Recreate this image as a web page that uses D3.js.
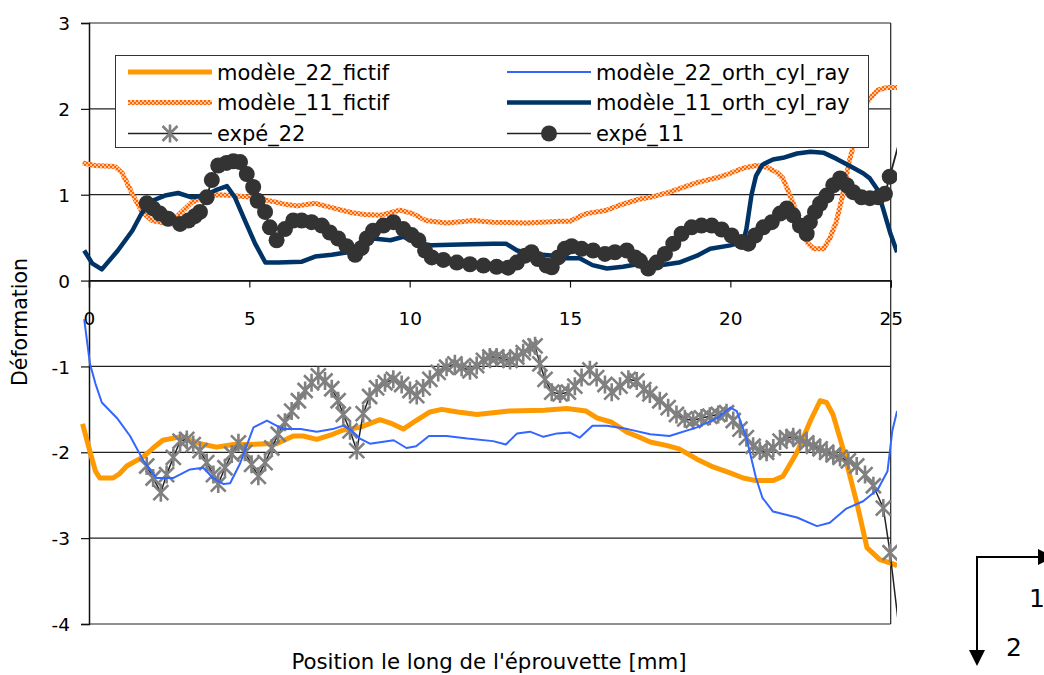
<!DOCTYPE html>
<html><head><meta charset="utf-8">
<script src="https://cdn.jsdelivr.net/npm/d3@7"></script>
<style>body{margin:0;background:#fff}svg{display:block}text{font-family:"DejaVu Sans",sans-serif;fill:#000}</style>
</head><body>
<svg id="chart" width="1044" height="675"></svg>
<script>
// ---------- data ----------
const xTicks = [0, 5, 10, 15, 20, 25];
const yTicks = [-4, -3, -2, -1, 0, 1, 2, 3];
const seriesNames = ["modèle_22_fictif", "modèle_22_orth_cyl_ray", "modèle_11_fictif", "modèle_11_orth_cyl_ray", "expé_22", "expé_11"];
const xTitle = "Position le long de l'éprouvette [mm]";
const yTitle = "Déformation";

const modele22Fictif = [[-0.2,-1.67],[0.0,-1.95],[0.2,-2.22],[0.34,-2.30],[0.75,-2.30],[0.95,-2.25],[1.18,-2.16],[1.7,-2.05],[2.0,-1.95],[2.3,-1.86],[2.84,-1.82],[3.2,-1.86],[3.46,-1.9],[3.98,-1.94],[4.5,-1.91],[5.0,-1.91],[5.54,-1.9],[5.85,-1.9],[6.37,-1.81],[6.68,-1.81],[7.1,-1.85],[7.6,-1.79],[7.93,-1.74],[8.45,-1.71],[9.07,-1.62],[9.4,-1.66],[9.8,-1.73],[10.2,-1.63],[10.63,-1.53],[11.0,-1.5],[11.5,-1.53],[12.1,-1.56],[12.6,-1.54],[13.1,-1.52],[14.2,-1.51],[14.9,-1.49],[15.5,-1.52],[15.84,-1.6],[16.3,-1.65],[16.8,-1.77],[17.2,-1.83],[17.5,-1.88],[18.0,-1.92],[18.4,-1.96],[18.96,-2.08],[19.46,-2.17],[19.99,-2.24],[20.4,-2.3],[20.8,-2.33],[21.33,-2.33],[21.64,-2.28],[22.08,-2.0],[22.5,-1.63],[22.8,-1.4],[23.0,-1.42],[23.2,-1.56],[23.5,-1.94],[23.95,-2.6],[24.26,-3.11],[24.66,-3.25],[25.07,-3.3],[25.2,-3.32]];

const modele22Orth = [[-0.15,-0.45],[0.03,-0.97],[0.2,-1.2],[0.4,-1.42],[0.87,-1.6],[1.28,-1.81],[1.7,-2.1],[2.1,-2.3],[2.62,-2.3],[3.15,-2.2],[3.56,-2.18],[3.87,-2.3],[4.2,-2.37],[4.4,-2.36],[4.7,-2.14],[5.13,-1.71],[5.55,-1.63],[6.05,-1.73],[6.6,-1.73],[7.1,-1.76],[7.6,-1.73],[7.93,-1.69],[8.2,-1.75],[8.45,-1.84],[8.76,-1.9],[9.5,-1.86],[9.9,-1.95],[10.2,-1.93],[10.6,-1.81],[11.15,-1.81],[11.8,-1.84],[12.6,-1.87],[13.0,-1.91],[13.35,-1.78],[13.75,-1.76],[14.17,-1.82],[14.6,-1.78],[15.0,-1.77],[15.3,-1.83],[15.7,-1.69],[16.15,-1.69],[16.8,-1.73],[17.5,-1.79],[18.1,-1.81],[18.96,-1.71],[19.6,-1.6],[20.0,-1.48],[20.2,-1.52],[20.5,-1.83],[20.8,-2.3],[21.0,-2.53],[21.33,-2.69],[22.08,-2.76],[22.7,-2.86],[23.1,-2.82],[23.6,-2.66],[24.14,-2.57],[24.6,-2.43],[24.9,-2.22],[25.05,-1.75],[25.2,-1.52]];

const modele11Fictif = [[-0.2,1.37],[0.19,1.34],[0.8,1.33],[1.04,1.25],[1.35,1.01],[1.65,0.8],[1.97,0.7],[2.47,0.66],[2.78,0.76],[3.2,0.91],[3.6,0.97],[4.0,1.0],[4.46,0.99],[5.08,0.97],[5.5,0.94],[6.1,0.89],[6.5,0.87],[7.05,0.9],[7.57,0.85],[8.2,0.79],[8.6,0.77],[9.07,0.76],[9.7,0.82],[10.1,0.78],[10.5,0.7],[11.15,0.67],[12.0,0.7],[12.6,0.68],[13.65,0.67],[14.7,0.69],[15.0,0.69],[15.5,0.78],[16.15,0.82],[16.56,0.88],[17.18,0.95],[17.5,0.97],[18.1,1.03],[18.96,1.14],[19.6,1.2],[20.0,1.25],[20.4,1.31],[20.8,1.34],[21.14,1.32],[21.45,1.26],[21.64,1.19],[21.95,0.91],[22.17,0.68],[22.4,0.44],[22.6,0.37],[22.9,0.37],[23.1,0.49],[23.3,0.68],[23.5,0.99],[23.7,1.38],[23.95,1.73],[24.14,2.0],[24.35,2.12],[24.6,2.22],[24.9,2.25],[25.2,2.25]];

const modele11Orth = [[-0.15,0.35],[0.1,0.2],[0.4,0.13],[0.9,0.35],[1.35,0.58],[1.65,0.79],[1.97,0.93],[2.37,0.99],[2.78,1.02],[3.2,0.97],[3.6,0.99],[4.0,1.06],[4.3,1.1],[4.55,0.97],[4.86,0.7],[5.18,0.43],[5.5,0.21],[5.9,0.21],[6.64,0.22],[7.05,0.28],[7.57,0.3],[8.07,0.33],[8.5,0.45],[8.86,0.49],[9.4,0.47],[9.8,0.51],[10.2,0.44],[10.7,0.41],[11.57,0.42],[12.6,0.43],[13.0,0.43],[13.35,0.35],[13.85,0.31],[14.5,0.29],[14.9,0.26],[15.3,0.26],[15.7,0.18],[16.15,0.14],[16.65,0.16],[17.1,0.19],[17.5,0.16],[18.4,0.21],[18.96,0.29],[19.37,0.37],[20.0,0.41],[20.4,0.45],[20.5,0.6],[20.66,1.0],[20.8,1.22],[21.0,1.35],[21.33,1.41],[21.64,1.43],[22.08,1.48],[22.5,1.5],[22.9,1.49],[23.3,1.42],[23.7,1.34],[24.14,1.25],[24.35,1.19],[24.57,1.07],[24.76,0.84],[24.98,0.56],[25.2,0.33]];

const expe22 = [[1.8,-2.16],[2.0,-2.30],[2.24,-2.47],[2.42,-2.26],[2.63,-2.06],[2.84,-1.87],[3.05,-1.85],[3.25,-1.91],[3.46,-1.98],[3.67,-2.12],[3.88,-2.26],[4.03,-2.37],[4.24,-2.18],[4.45,-2.02],[4.66,-1.89],[4.86,-2.0],[5.07,-2.14],[5.28,-2.28],[5.49,-2.12],[5.7,-1.95],[5.9,-1.79],[6.11,-1.65],[6.32,-1.52],[6.53,-1.40],[6.74,-1.28],[6.94,-1.19],[7.15,-1.11],[7.36,-1.17],[7.57,-1.26],[7.77,-1.40],[7.93,-1.56],[8.14,-1.75],[8.35,-1.98],[8.55,-1.55],[8.75,-1.35],[8.97,-1.25],[9.23,-1.19],[9.49,-1.15],[9.75,-1.21],[10.01,-1.28],[10.22,-1.34],[10.42,-1.25],[10.63,-1.15],[10.89,-1.07],[11.15,-1.01],[11.41,-0.97],[11.62,-1.01],[11.88,-1.05],[12.09,-0.99],[12.3,-0.93],[12.5,-0.89],[12.71,-0.89],[12.92,-0.91],[13.13,-0.93],[13.34,-0.89],[13.54,-0.84],[13.75,-0.78],[13.91,-0.76],[14.06,-0.97],[14.22,-1.15],[14.43,-1.30],[14.69,-1.32],[14.95,-1.30],[15.15,-1.23],[15.36,-1.13],[15.62,-1.04],[15.83,-1.13],[16.09,-1.21],[16.3,-1.30],[16.56,-1.23],[16.82,-1.15],[17.08,-1.17],[17.3,-1.27],[17.49,-1.32],[17.8,-1.40],[18.06,-1.48],[18.32,-1.56],[18.58,-1.61],[18.84,-1.63],[19.1,-1.60],[19.36,-1.58],[19.62,-1.56],[19.88,-1.54],[20.09,-1.63],[20.3,-1.73],[20.5,-1.83],[20.71,-1.93],[20.92,-1.98],[21.13,-2.0],[21.34,-1.95],[21.55,-1.87],[21.75,-1.83],[21.96,-1.82],[22.17,-1.85],[22.38,-1.89],[22.59,-1.93],[22.8,-1.96],[23.0,-2.0],[23.21,-2.03],[23.42,-2.06],[23.68,-2.10],[23.94,-2.16],[24.2,-2.26],[24.46,-2.39],[24.77,-2.65],[24.98,-3.17],[25.4,-4.5]];

const expe11 = [[1.8,0.9],[2.0,0.84],[2.21,0.78],[2.47,0.72],[2.84,0.66],[3.1,0.70],[3.3,0.75],[3.46,0.80],[3.67,0.97],[3.83,1.17],[4.03,1.34],[4.29,1.37],[4.5,1.39],[4.71,1.38],[4.92,1.24],[5.12,1.09],[5.26,0.93],[5.49,0.80],[5.64,0.62],[5.85,0.47],[6.11,0.6],[6.37,0.70],[6.63,0.70],[6.94,0.68],[7.26,0.64],[7.51,0.56],[7.77,0.49],[8.03,0.40],[8.3,0.3],[8.5,0.38],[8.66,0.49],[8.86,0.58],[9.18,0.64],[9.49,0.68],[9.8,0.60],[10.06,0.53],[10.27,0.47],[10.48,0.35],[10.69,0.27],[11.05,0.24],[11.47,0.21],[11.88,0.19],[12.3,0.175],[12.71,0.16],[13.07,0.15],[13.34,0.21],[13.6,0.29],[13.8,0.33],[14.0,0.25],[14.27,0.175],[14.43,0.155],[14.63,0.27],[14.84,0.37],[15.05,0.40],[15.36,0.37],[15.72,0.35],[16.09,0.31],[16.4,0.33],[16.77,0.35],[17.03,0.27],[17.18,0.23],[17.44,0.14],[17.7,0.21],[17.96,0.31],[18.22,0.43],[18.48,0.545],[18.79,0.62],[19.1,0.64],[19.42,0.64],[19.73,0.595],[20.04,0.525],[20.35,0.45],[20.56,0.43],[20.77,0.525],[21.03,0.62],[21.29,0.68],[21.55,0.78],[21.76,0.84],[21.96,0.76],[22.17,0.64],[22.38,0.545],[22.48,0.68],[22.64,0.80],[22.8,0.895],[23.0,0.99],[23.21,1.11],[23.42,1.19],[23.63,1.11],[23.83,1.03],[24.09,0.97],[24.35,0.96],[24.61,0.97],[24.82,1.01],[24.97,1.21],[25.4,1.8]];

// ---------- drawing ----------
const svg = d3.select("#chart");
const x = d3.scaleLinear().domain([0, 25]).range([89, 890.7]);
const y = d3.scaleLinear().domain([-4, 3]).range([624, 23]);
const line = d3.line().x(d => x(d[0])).y(d => y(d[1]));
const inPlot = d => d[0] <= 25.05;

const defs = svg.append("defs");
const pat = defs.append("pattern").attr("id", "chk").attr("width", 4).attr("height", 4).attr("patternUnits", "userSpaceOnUse");
pat.append("rect").attr("width", 4).attr("height", 4).attr("fill", "#FFC49C");
pat.append("rect").attr("x", 0).attr("y", 0).attr("width", 2).attr("height", 2).attr("fill", "#FF6600");
pat.append("rect").attr("x", 2).attr("y", 2).attr("width", 2).attr("height", 2).attr("fill", "#FF6600");
defs.append("clipPath").attr("id", "clip").append("rect").attr("x", 0).attr("y", 0).attr("width", 897).attr("height", 675);

// gridlines
svg.append("g").selectAll("line").data(yTicks).join("line")
  .attr("x1", x(0)).attr("x2", x(25)).attr("y1", d => y(d)).attr("y2", d => y(d))
  .attr("stroke", "#222").attr("stroke-width", 1.2);
// right border
svg.append("line").attr("x1", x(25)).attr("x2", x(25)).attr("y1", y(3)).attr("y2", y(-4)).attr("stroke", "#222").attr("stroke-width", 1.2);

// y axis
const yAxis = svg.append("g").attr("transform", `translate(${x(0)},0)`)
  .call(d3.axisLeft(y).tickValues(yTicks).tickSize(8).tickPadding(11).tickFormat(d => String(d)));
yAxis.select(".domain").attr("stroke", "#111").attr("stroke-width", 1.5);
yAxis.selectAll(".tick line").attr("stroke", "#111").attr("stroke-width", 1.2);
yAxis.selectAll("text").attr("font-size", 18.5).attr("font-family", "DejaVu Sans").attr("fill", "#000").attr("dy", "0.36em");

// x axis at y=0
const xAxis = svg.append("g").attr("transform", `translate(0,${y(0)})`)
  .call(d3.axisBottom(x).tickValues(xTicks).tickSize(7).tickPadding(24).tickFormat(d => String(d)));
xAxis.select(".domain").attr("stroke", "#111").attr("stroke-width", 1.5);
xAxis.selectAll(".tick line").attr("stroke", "#111").attr("stroke-width", 1.2);
xAxis.selectAll("text").attr("font-size", 18.5).attr("font-family", "DejaVu Sans").attr("fill", "#000");

// series
const plot = svg.append("g").attr("clip-path", "url(#clip)");
function asterisk(s) {
  return `M${-s},${-s}L${s},${s}M${-s},${s}L${s},${-s}M0,${-s * 1.2}L0,${s * 1.2}`;
}
plot.append("path").datum(modele22Fictif).attr("d", line).attr("fill", "none").attr("stroke", "#FF9900").attr("stroke-width", 5).attr("stroke-linejoin", "round");
plot.append("path").datum(modele11Fictif).attr("d", line).attr("fill", "none").attr("stroke", "url(#chk)").attr("stroke-width", 5).attr("stroke-linejoin", "round");
plot.append("path").datum(expe22).attr("d", line).attr("fill", "none").attr("stroke", "#222").attr("stroke-width", 1.5);
plot.append("g").selectAll("path").data(expe22.filter(inPlot)).join("path")
  .attr("transform", d => `translate(${x(d[0])},${y(d[1])})`)
  .attr("d", asterisk(7.5)).attr("stroke", "#808080").attr("stroke-width", 2.6).attr("fill", "none");
plot.append("path").datum(modele22Orth).attr("d", line).attr("fill", "none").attr("stroke", "#3366FF").attr("stroke-width", 2).attr("stroke-linejoin", "round");
plot.append("path").datum(modele11Orth).attr("d", line).attr("fill", "none").attr("stroke", "#003366").attr("stroke-width", 4.5).attr("stroke-linejoin", "round");
plot.append("path").datum(expe11).attr("d", line).attr("fill", "none").attr("stroke", "#222").attr("stroke-width", 1.8);
plot.append("g").selectAll("circle").data(expe11.filter(inPlot)).join("circle")
  .attr("cx", d => x(d[0])).attr("cy", d => y(d[1])).attr("r", 8).attr("fill", "#333");

// legend
const lg = svg.append("g");
lg.append("rect").attr("x", 115.5).attr("y", 55.5).attr("width", 753).attr("height", 92).attr("fill", "#fff").attr("stroke", "#333").attr("stroke-width", 1);
const cols = [128, 507];
const rows = [72, 102.5, 133.5];
const sym = [
  {stroke: "#FF9900", w: 5}, {stroke: "#3366FF", w: 2},
  {stroke: "url(#chk)", w: 5}, {stroke: "#003366", w: 4.5},
  {stroke: "#222", w: 1.5, marker: "ast"}, {stroke: "#222", w: 1.5, marker: "circ"}
];
seriesNames.forEach((name, i) => {
  const cx = cols[i % 2], cy = rows[Math.floor(i / 2)];
  const g = lg.append("g");
  g.append("line").attr("x1", cx).attr("x2", cx + 84).attr("y1", cy).attr("y2", cy).attr("stroke", sym[i].stroke).attr("stroke-width", sym[i].w);
  if (sym[i].marker === "ast") g.append("path").attr("transform", `translate(${cx + 42},${cy})`).attr("d", asterisk(7.5)).attr("stroke", "#808080").attr("stroke-width", 2.6).attr("fill", "none");
  if (sym[i].marker === "circ") g.append("circle").attr("cx", cx + 42).attr("cy", cy).attr("r", 8).attr("fill", "#333");
  g.append("text").attr("x", cx + 89).attr("y", cy).attr("dy", "0.36em").attr("font-size", 21).text(name);
});

// axis titles
svg.append("text").attr("transform", "translate(27,322) rotate(-90)").attr("text-anchor", "middle").attr("font-size", 20.5).text(yTitle);
svg.append("text").attr("x", 489).attr("y", 669).attr("text-anchor", "middle").attr("font-size", 21.3).text(xTitle);

// orientation marker
const o = svg.append("g");
o.append("line").attr("x1", 977).attr("y1", 557).attr("x2", 977).attr("y2", 652).attr("stroke", "#000").attr("stroke-width", 2);
o.append("path").attr("d", "M969,650L985,650L977,666Z").attr("fill", "#000");
o.append("line").attr("x1", 976).attr("y1", 557).attr("x2", 1040).attr("y2", 557).attr("stroke", "#000").attr("stroke-width", 2);
o.append("path").attr("d", "M1038,549L1038,565L1054,557Z").attr("fill", "#000");
o.append("text").attr("x", 1029).attr("y", 607).attr("font-size", 25).text("1");
o.append("text").attr("x", 1006).attr("y", 656).attr("font-size", 25).text("2");
</script>
</body></html>
